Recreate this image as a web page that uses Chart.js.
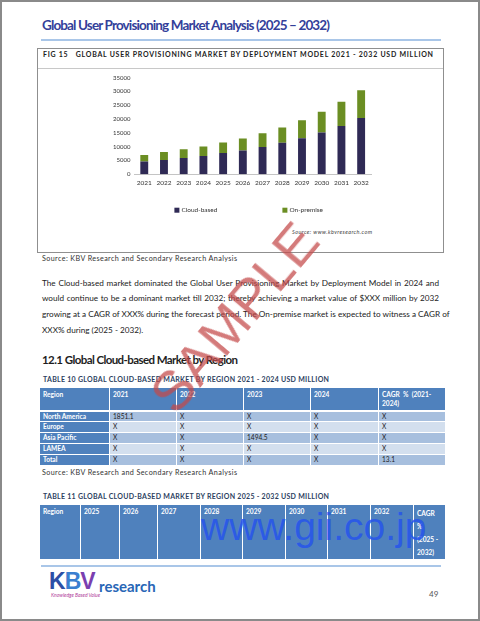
<!DOCTYPE html>
<html>
<head>
<meta charset="utf-8">
<script src="https://cdn.jsdelivr.net/npm/chart.js@4.4.1/dist/chart.umd.min.js"></script>
<style>
  html, body { margin: 0; padding: 0; background: #fff; }
  #page {
    position: relative; width: 480px; height: 621px; box-sizing: border-box;
    border: 2px solid #8a8a8a; overflow: hidden; font-family: Lato, "Open Sans", sans-serif; color: #222;
  }
  .abs { position: absolute; white-space: nowrap; }
  .rule { position: absolute; height: 1.5px; background: #a9c6e8; }
  #title { left: 40px; top: 15px; font-size: 13.5px; font-weight: 700; color: #33409a; }
  #figbox { left: 35px; top: 46px; width: 405px; height: 203px; border: 1px solid #8f8f8f; }
  #figline { left: 36px; top: 66px; width: 405px; height: 1px; background: #c8c8c8; }
  #fighead { left: 41px; top: 48px; font-size: 7px; font-weight: 700; color: #222; }
  #myChart { position: absolute; left: 98px; top: 68px; }
  #chartsrc { left: 290px; top: 227px; font-size: 5.5px; font-style: italic; color: #444; }
  .src { font-size: 7.2px; color: #333; }
  .para { position: absolute; left: 40px; width: 397px; font-size: 8.2px; color: #222; white-space: nowrap;
          text-align: justify; text-align-last: justify; }
  .para.last { text-align-last: left; }
  #h121 { left: 40px; top: 351px; font-size: 11.5px; font-weight: 700; color: #1e1e1e; }
  .ttl { font-size: 7px; font-weight: 700; color: #2d3f5f; }
  table { position: absolute; border-collapse: collapse; table-layout: fixed; font-size: 6.6px; }
  td { border: 1.5px solid #fff; padding: 0 0 0 3px; vertical-align: top; overflow: hidden; white-space: nowrap; line-height: 9px; }
  td.hd { background: #4f81bd; color: #fff; font-weight: 700; padding-top: 2px; }
  td.rn { background: #4f81bd; color: #fff; font-weight: 700; }
  tr.dk td.v { background: #a7bfde; }
  tr.lt td.v { background: #d3dfee; }
  tr.gap td { border-top-width: 2.5px; }
  #t11 td { background: #4f81bd; color: #fff; font-weight: 700; padding-top: 2px; white-space: normal; }
  #gii { left: 199px; top: 503px; font-family: "Liberation Sans", Arial, sans-serif; font-size: 39px; color: rgba(38, 84, 236, 0.85); }
  #sample { left: 232px; top: 315px; font-family: "Liberation Sans", Arial, sans-serif; font-size: 56px;
            color: rgba(196, 72, 72, 0.72); transform: translate(-50%, -50%) rotate(-50deg); }
  #logoK { left: 47px; top: 566px; font-family: "Liberation Sans", Arial, sans-serif; font-size: 23px; font-weight: 700; letter-spacing: -1px; }
  #logoR { left: 97px; top: 575px; font-size: 15px; font-weight: 700; color: #2866b6; }
  #logoT { left: 49px; top: 590px; font-size: 5px; color: #b0409a; font-style: italic; }
  #pgno { left: 427px; top: 587px; font-size: 8px; color: #555; }
</style>
</head>
<body>
<div id="page">
  <div class="abs" id="title" data-fit="288">Global User Provisioning Market Analysis (2025 – 2032)</div>
  <div class="rule" style="left:39px; top:37px; width:400px;"></div>

  <div class="abs" id="figbox"></div>
  <div class="abs" id="figline"></div>
  <div class="abs" id="fighead" data-fit="390">FIG 15&nbsp;&nbsp; GLOBAL USER PROVISIONING MARKET BY DEPLOYMENT MODEL 2021 - 2032 USD MILLION</div>
  <canvas id="myChart" width="290" height="150"></canvas>
  <div class="abs" id="chartsrc" data-fit="80">Source: www.kbvresearch.com</div>

  <div class="abs src" style="left:40px; top:252px;" data-fit="195">Source: KBV Research and Secondary Research Analysis</div>

  <div class="para" style="top:276px;">The Cloud-based market dominated the Global User Provisioning Market by Deployment Model in 2024 and</div>
  <div class="para" style="top:291px;">would continue to be a dominant market till 2032; thereby achieving a market value of $XXX million by 2032</div>
  <div class="para" style="top:307px;">growing at a CAGR of XXX% during the forecast period. The On-premise market is expected to witness a CAGR of</div>
  <div class="para last" style="top:323px;">XXX% during (2025 - 2032).</div>

  <div class="abs" id="h121" data-fit="196">12.1 Global Cloud-based Market by Region</div>
  <div class="abs ttl" style="left:41px; top:373px;" data-fit="286">TABLE 10 GLOBAL CLOUD-BASED MARKET BY REGION 2021 - 2024 USD MILLION</div>

  <table id="t10" style="left:37px; top:385px; width:406px;">
    <colgroup><col style="width:70px"><col style="width:67px"><col style="width:67px"><col style="width:67px"><col style="width:68px"><col style="width:67px"></colgroup>
    <tr style="height:23px;"><td class="hd">Region</td><td class="hd">2021</td><td class="hd">2022</td><td class="hd">2023</td><td class="hd">2024</td><td class="hd" style="white-space:normal; line-height:9px;">CAGR&nbsp; %&nbsp; (2021-<br>2024)</td></tr>
    <tr class="dk gap" style="height:11px;"><td class="rn">North America</td><td class="v">1851.1</td><td class="v">X</td><td class="v">X</td><td class="v">X</td><td class="v">X</td></tr>
    <tr class="lt" style="height:11px;"><td class="rn">Europe</td><td class="v">X</td><td class="v">X</td><td class="v">X</td><td class="v">X</td><td class="v">X</td></tr>
    <tr class="dk" style="height:11px;"><td class="rn">Asia Pacific</td><td class="v">X</td><td class="v">X</td><td class="v">1494.5</td><td class="v">X</td><td class="v">X</td></tr>
    <tr class="lt" style="height:11px;"><td class="rn">LAMEA</td><td class="v">X</td><td class="v">X</td><td class="v">X</td><td class="v">X</td><td class="v">X</td></tr>
    <tr class="dk" style="height:11px;"><td class="rn">Total</td><td class="v">X</td><td class="v">X</td><td class="v">X</td><td class="v">X</td><td class="v">13.1</td></tr>
  </table>
  <div class="abs src" style="left:40px; top:466px;" data-fit="195">Source: KBV Research and Secondary Research Analysis</div>

  <div class="abs ttl" style="left:41px; top:490px;" data-fit="286">TABLE 11 GLOBAL CLOUD-BASED MARKET BY REGION 2025 - 2032 USD MILLION</div>
  <table id="t11" style="left:37px; top:502px; width:406px;">
    <colgroup><col style="width:41px"><col style="width:39px"><col style="width:38px"><col style="width:43px"><col style="width:42px"><col style="width:43px"><col style="width:42px"><col style="width:43px"><col style="width:43px"><col style="width:32px"></colgroup>
    <tr style="height:54px;"><td>Region</td><td>2025</td><td>2026</td><td>2027</td><td>2028</td><td>2029</td><td>2030</td><td>2031</td><td>2032</td><td style="line-height:13px;">CAGR<br>%<br>(2025 -<br>2032)</td></tr>
  </table>
  <div class="abs" id="gii">www.gii.co.jp</div>

  <div class="rule" style="left:39px; top:563px; width:400px;"></div>
  <div class="abs" id="logoK"><span style="color:#2c4fa6">K</span><span style="color:#3a7fd0">B</span><span style="color:#7a3fb0">V</span></div>
  <div class="abs" id="logoR">research</div>
  <div class="abs" id="logoT">Knowledge Based Value</div>
  <div class="abs" id="pgno">49</div>

  <div class="abs" id="sample">SAMPLE</div>
</div>

<script>
// chart values (USD million)
const years = ["2021", "2022", "2023", "2024", "2025", "2026", "2027", "2028", "2029", "2030", "2031", "2032"];
const cloudBased = [4560, 5160, 5880, 6600, 7670, 8630, 9830, 11390, 13070, 15100, 17500, 20380];
const onPremise = [2440, 2870, 3120, 3470, 3830, 4320, 5040, 5510, 6470, 7560, 8760, 10080];
const seriesNames = ["Cloud-based", "On-premise"];
const seriesColors = ["#2f2a55", "#6b8e23"];
const yMax = 35000;
const yStep = 5000;

//stretch header lines so they span the same width as in the report
document.querySelectorAll("[data-fit]").forEach(function (el) {
  const target = parseFloat(el.dataset.fit);
  const w = el.getBoundingClientRect().width;
  const n = el.textContent.length - 1;
  el.style.letterSpacing = ((target - w) / n) + "px";
});

//legend drawn under the axis, the two items far apart like in the report
const wideLegend = {
  id: "wideLegend",
  afterDraw(chart) {
    const ctx = chart.ctx;
    const area = chart.chartArea;
    const xs = [area.left + 40, area.left + 148];
    const y = area.bottom + 36;
    ctx.save();
    ctx.font = "6.5px Lato";
    ctx.textBaseline = "middle";
    chart.data.datasets.forEach(function (ds, i) {
      ctx.fillStyle = ds.backgroundColor;
      ctx.fillRect(xs[i], y - 2.5, 5, 5);
      ctx.fillStyle = "#333";
      ctx.fillText(ds.label, xs[i] + 7, y);
    });
    ctx.restore();
  }
};

const ctx = document.getElementById("myChart");
new Chart(ctx, {
  type: "bar",
  data: {
    labels: years,
    datasets: [
      { label: seriesNames[0], data: cloudBased, backgroundColor: seriesColors[0] },
      { label: seriesNames[1], data: onPremise, backgroundColor: seriesColors[1] }
    ]
  },
  options: {
    responsive: false,
    animation: false,
    devicePixelRatio: 1,
    layout: { padding: { left: 9, right: 19, top: 5, bottom: 28 } },
    datasets: { bar: { barPercentage: 0.4, categoryPercentage: 1 } },
    plugins: {
      legend: { display: false },
      tooltip: { enabled: false }
    },
    scales: {
      x: {
        stacked: true,
        grid: { display: false, drawTicks: false },
        border: { color: "#c4c4c4" },
        ticks: { color: "#333", font: { size: 6.5, family: "Lato" }, padding: 5, maxRotation: 0 }
      },
      y: {
        stacked: true,
        min: 0,
        max: yMax,
        grid: { display: false, drawTicks: false },
        border: { display: false },
        ticks: {
          stepSize: yStep, color: "#333", font: { size: 6, family: "Lato" }, padding: 4,
          callback: function (v) { return String(v); }
        }
      }
    }
  },
  plugins: [wideLegend]
});
</script>
</body>
</html>
